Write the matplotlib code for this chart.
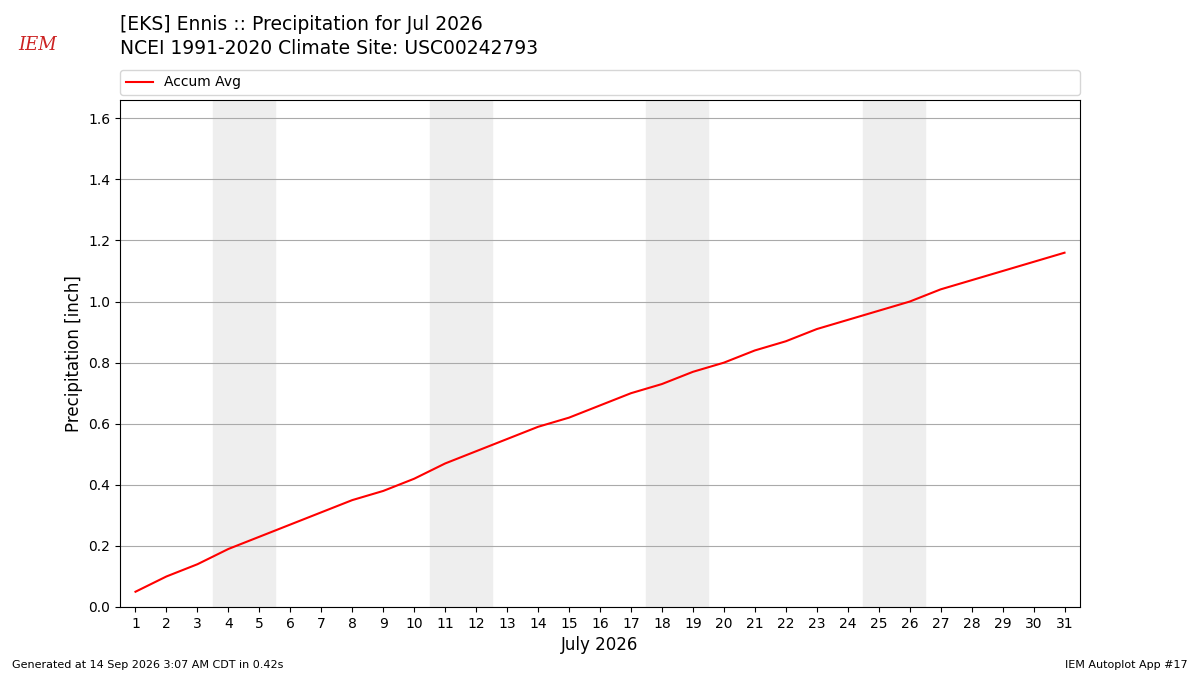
import matplotlib
matplotlib.use("Agg")
import matplotlib.pyplot as plt
import numpy as np

days = np.arange(1, 32)
accum_avg = [0.05, 0.10, 0.14, 0.19, 0.23, 0.27, 0.31, 0.35, 0.38, 0.42,
             0.47, 0.51, 0.55, 0.59, 0.62, 0.66, 0.70, 0.73, 0.77, 0.80,
             0.84, 0.87, 0.91, 0.94, 0.97, 1.00, 1.04, 1.07, 1.10, 1.13, 1.16]
weekends = [4, 11, 18, 25]

fig = plt.figure(figsize=(12, 6.75), dpi=100)
ax = fig.add_axes([120/1200, 68/675, 960/1200, 507/675])

for d in weekends:
    ax.axvspan(d - 0.5, d + 1.5, color="#eeeeee", zorder=0)

ax.plot(days, accum_avg, color="red", label="Accum Avg", zorder=3)
ax.set_xlim(0.5, 31.5)
ax.set_ylim(0, 1.66)
ax.set_xticks(days)
ax.set_yticks(np.arange(0, 1.61, 0.2))
ax.yaxis.grid(True, color="#aaaaaa")
ax.set_axisbelow(True)
ax.set_xlabel("July 2026", fontsize=12)
ax.set_ylabel("Precipitation [inch]", fontsize=12)

ax.legend(loc="lower left", bbox_to_anchor=(0, 1.01, 1, 0.05), mode="expand",
          ncol=1, fontsize=10, borderaxespad=0, frameon=True)

fig.text(120/1200, 1 - 24/675, "[EKS] Ennis :: Precipitation for Jul 2026", fontsize=13.5, va="center")
fig.text(120/1200, 1 - 48/675, "NCEI 1991-2020 Climate Site: USC00242793", fontsize=13.5, va="center")
fig.text(38/1200, 1 - 45/675, "IEM", fontsize=13, color="#cc2222", style="italic", family="serif", ha="center", va="center")
fig.text(12/1200, 1 - 665/675, "Generated at 14 Sep 2026 3:07 AM CDT in 0.42s", fontsize=8, va="center")
fig.text(1188/1200, 1 - 665/675, "IEM Autoplot App #17", fontsize=8, ha="right", va="center")

fig.savefig("out.png")
